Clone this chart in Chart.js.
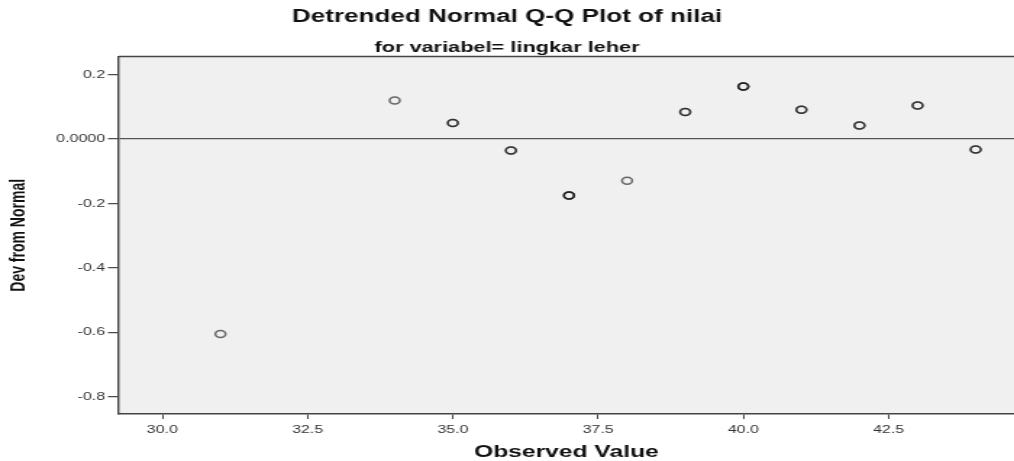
<!DOCTYPE html>
<html>
<head>
<meta charset="utf-8">
<script src="https://cdn.jsdelivr.net/npm/chart.js@4"></script>
<style>
    html, body { margin: 0; padding: 0; background: #fff; overflow: hidden; }
    /* o grafico original foi esticado na horizontal */
    #grafico { width: 700px; height: 461px; transform: scaleX(1.4486); transform-origin: 0 0; }
</style>
</head>
<body>
<div id="grafico"><canvas id="qqDetrended" width="700" height="461"></canvas></div>
<script>
// valores observados de lingkar leher e desvio da normal
var valoresObservados = [31, 34, 35, 36, 37, 38, 39, 40, 41, 42, 43, 44];
var desvioNormal = [-0.605, 0.120, 0.050, -0.035, -0.175, -0.129, 0.084, 0.163, 0.091, 0.042, 0.104, -0.032];
var qtdCasos = [1, 1, 2, 2, 3, 1, 2, 3, 2, 2, 2, 2];
var ticksX = [30, 32.5, 35, 37.5, 40, 42.5];
var ticksY = [0.2, 0, -0.2, -0.4, -0.6, -0.8];

var fonte = "'Liberation Sans', Arial, sans-serif";

// repete o ponto conforme a quantidade de casos (pontos sobrepostos ficam mais escuros)
function PegarPontos() {
    var pontos = [];
    var indice = 0;
    while (indice < valoresObservados.length) {
        for (var k = 0; k < qtdCasos[indice]; k++) {
            pontos.push({ x: valoresObservados[indice], y: desvioNormal[indice] });
        }
        indice++;
    }
    return pontos;
}

var fundoArea = {
    id: 'fundoArea',
    beforeDraw: function (chart) {
        var a = chart.chartArea;
        var ctx = chart.ctx;
        ctx.save();
        ctx.fillStyle = '#f0f0f0';
        ctx.fillRect(a.left, a.top, a.right - a.left, a.bottom - a.top);
        ctx.restore();
    },
    afterDraw: function (chart) {
        var a = chart.chartArea;
        var ctx = chart.ctx;
        ctx.save();
        ctx.strokeStyle = '#444';
        ctx.lineWidth = 1.5;
        ctx.beginPath();
        ctx.moveTo(a.left, a.top);
        ctx.lineTo(a.right, a.top);
        ctx.stroke();
        ctx.restore();
    }
};

new Chart(document.getElementById('qqDetrended'), {
    type: 'scatter',
    data: {
        datasets: [{
            label: 'nilai',
            data: PegarPontos(),
            pointStyle: 'circle',
            pointRadius: 3.5,
            pointHoverRadius: 3.5,
            pointBorderWidth: 1.5,
            borderColor: 'rgba(20,20,20,0.62)',
            backgroundColor: 'rgba(0,0,0,0)'
        }]
    },
    plugins: [fundoArea],
    options: {
        responsive: false,
        animation: false,
        layout: { padding: 0, autoPadding: false },
        plugins: {
            legend: { display: false },
            tooltip: { enabled: false },
            title: {
                display: true,
                text: 'Detrended Normal Q-Q Plot of nilai',
                color: '#111',
                font: { family: fonte, size: 18, weight: 'bold' },
                padding: { top: 6, bottom: 9 }
            },
            subtitle: {
                display: true,
                text: 'for variabel= lingkar leher',
                color: '#111',
                font: { family: fonte, size: 15, weight: 'bold' },
                padding: { top: 2, bottom: 0 }
            }
        },
        scales: {
            x: {
                type: 'linear',
                min: 29.25,
                max: 44.66,
                afterBuildTicks: function (s) {
                    s.ticks = ticksX.map(function (v) { return { value: v }; });
                },
                afterFit: function (s) {
                    s.height = 47;
                    s.paddingLeft = 0;
                    s.paddingRight = 0;
                },
                ticks: {
                    color: '#333',
                    font: { family: fonte, size: 11 },
                    padding: 4,
                    maxRotation: 0,
                    autoSkip: false,
                    callback: function (v) { return v.toFixed(1); }
                },
                grid: { drawOnChartArea: false, tickLength: 5, tickColor: '#444', tickWidth: 1 },
                border: { color: '#444', width: 1.5 },
                title: {
                    display: true,
                    text: 'Observed Value',
                    color: '#111',
                    font: { family: fonte, size: 17, weight: 'bold', lineHeight: 1.0 },
                    padding: { top: 0, bottom: 0 }
                }
            },
            y: {
                min: -0.853,
                max: 0.256,
                afterBuildTicks: function (s) {
                    s.ticks = ticksY.map(function (v) { return { value: v }; });
                },
                afterFit: function (s) { s.width = 82; },
                ticks: {
                    color: '#333',
                    font: { family: fonte, size: 11 },
                    padding: 2,
                    callback: function (v) { return v === 0 ? '0.0000' : v.toFixed(1); }
                },
                grid: {
                    color: function (c) { return c.tick && c.tick.value === 0 ? '#555' : 'rgba(0,0,0,0)'; },
                    lineWidth: 1.3,
                    tickLength: 7.5,
                    tickColor: '#444',
                    tickWidth: 1.2
                },
                border: { color: '#444', width: 1.4 },
                title: {
                    display: true,
                    text: 'Dev from Normal',
                    color: '#111',
                    font: { family: fonte, size: 14, weight: 'bold' },
                    padding: { top: 5, bottom: 0 }
                }
            }
        }
    }
});
</script>
</body>
</html>
